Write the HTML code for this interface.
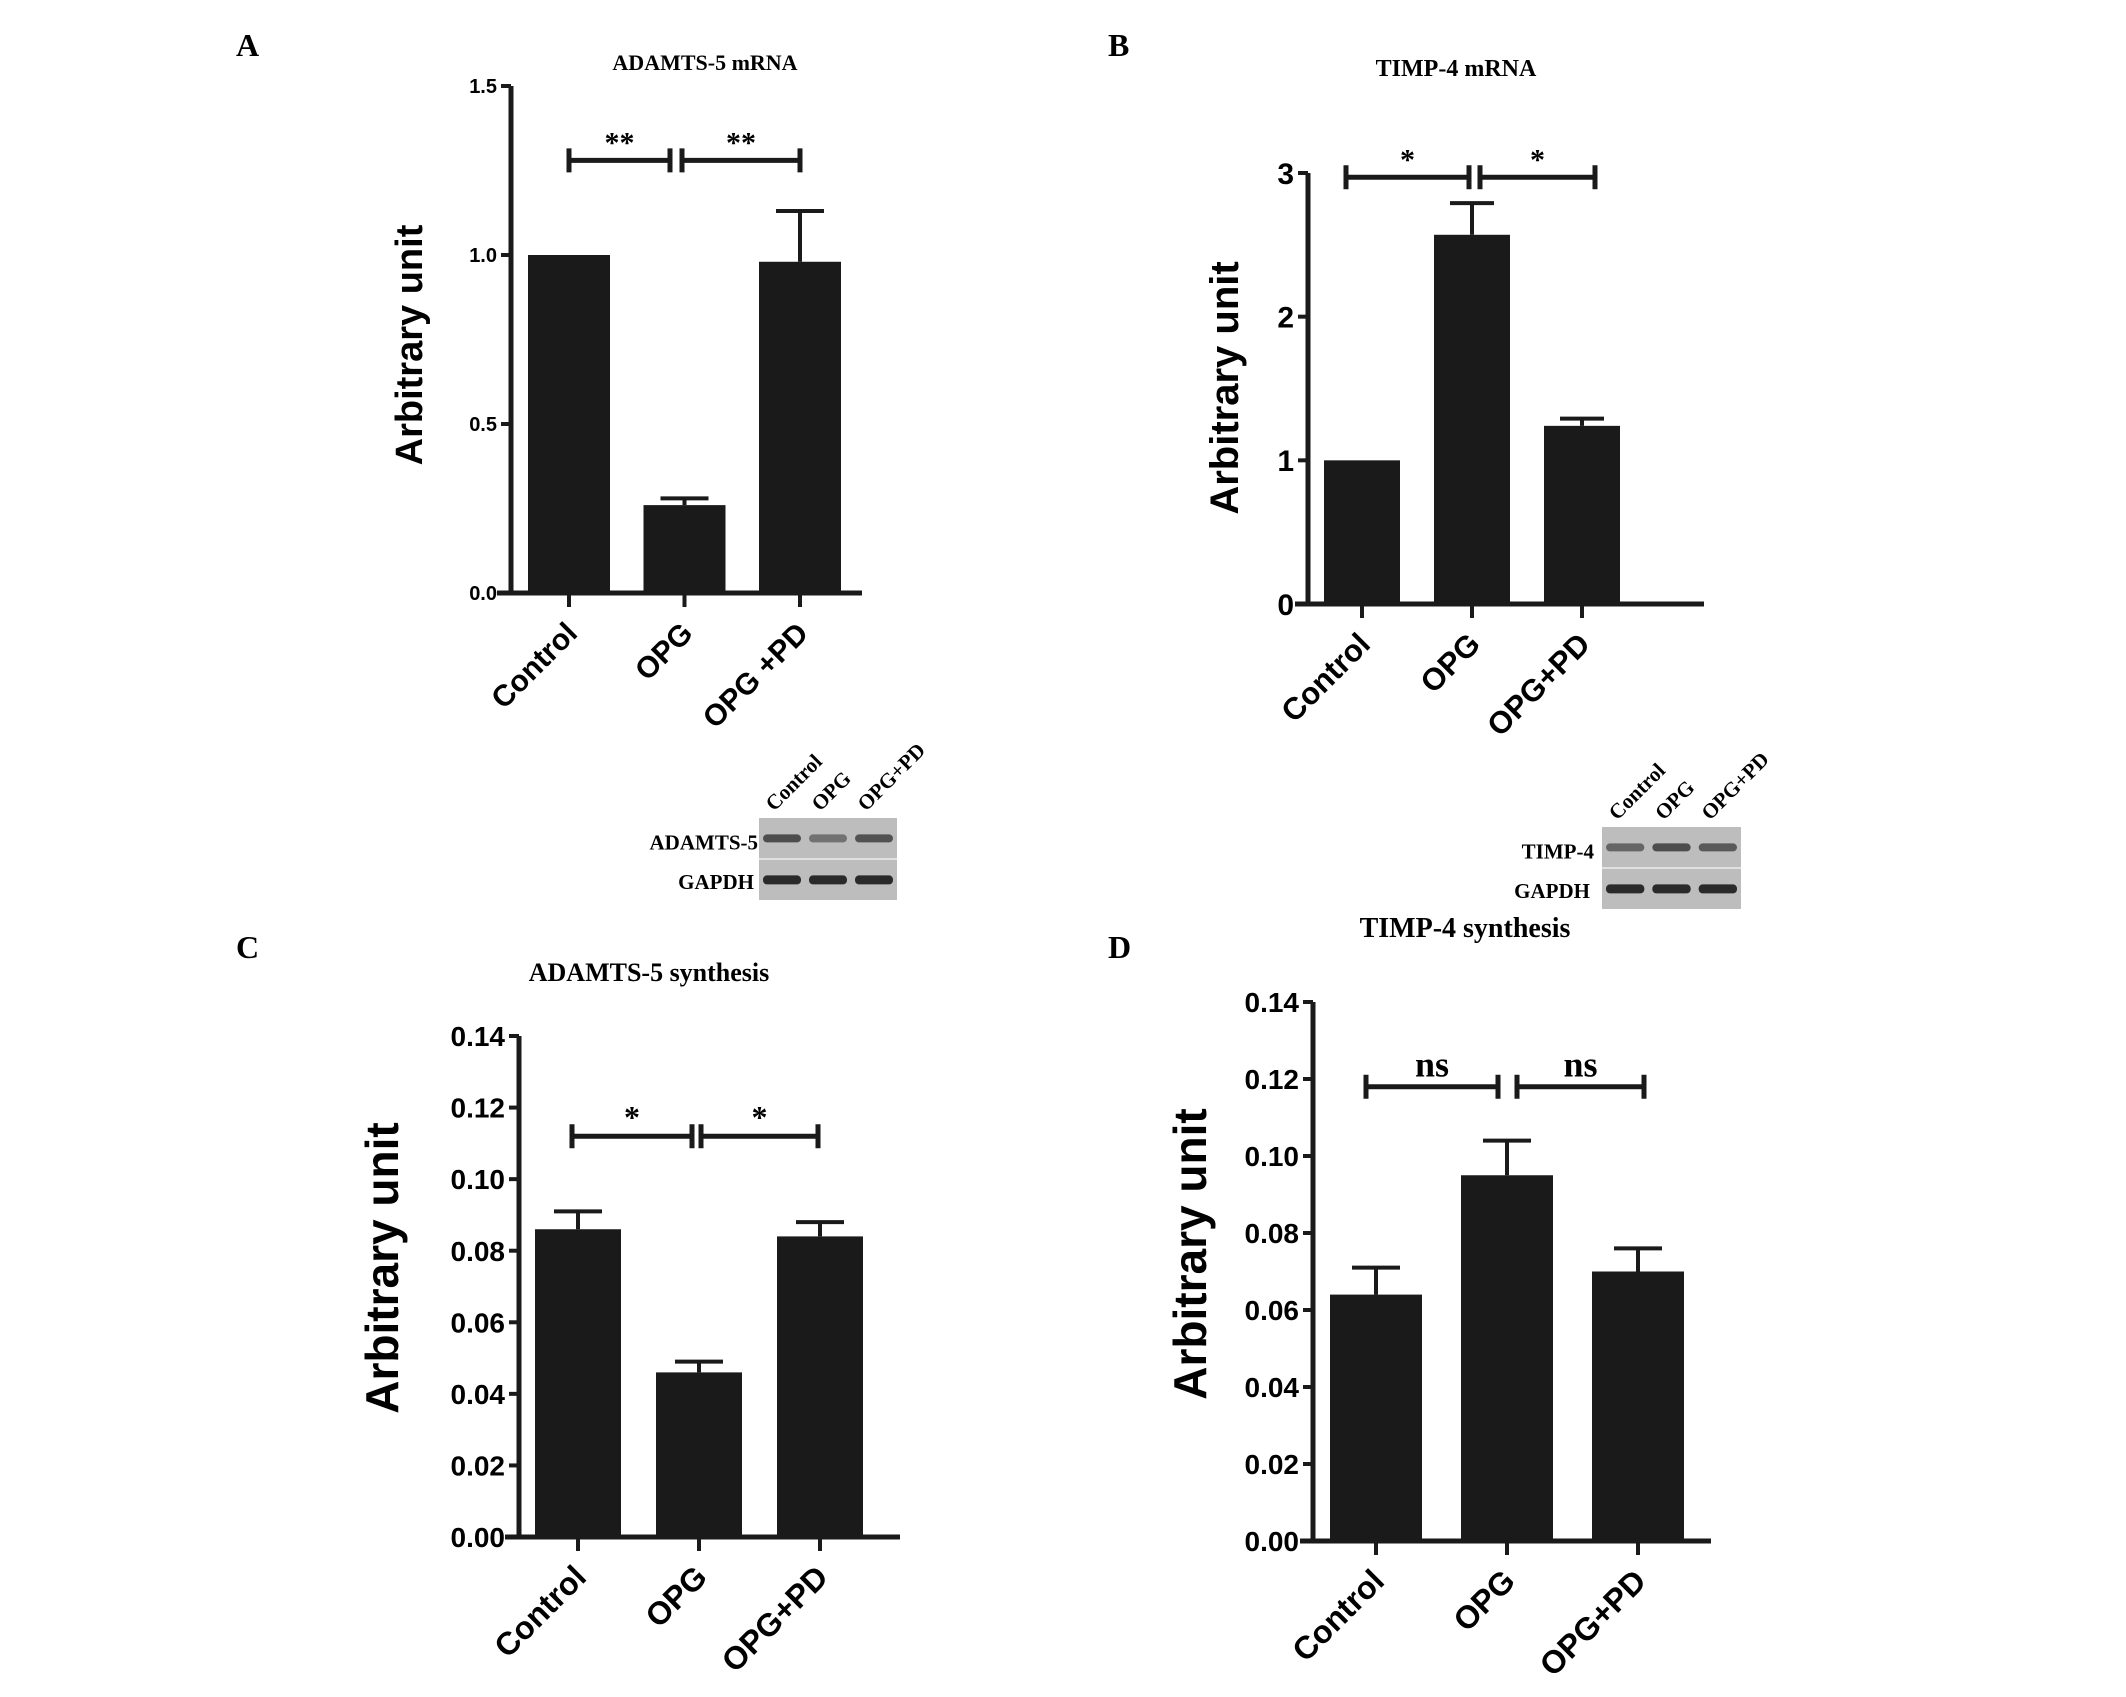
<!DOCTYPE html>
<html><head><meta charset="utf-8"><style>
html,body{margin:0;padding:0;background:#fff;}
svg{display:block;}
.sans{font-family:"Liberation Sans",Arial,sans-serif;font-weight:bold;}
.serif{font-family:"Liberation Serif","Times New Roman",serif;font-weight:bold;}
</style></head><body>
<svg id="fig" width="2126" height="1697" viewBox="0 0 2126 1697" xmlns="http://www.w3.org/2000/svg">
<text class="serif" x="236" y="56" font-size="32">A</text>
<text class="serif" x="1108" y="56" font-size="32">B</text>
<text class="serif" x="236" y="958" font-size="32">C</text>
<text class="serif" x="1108" y="958" font-size="32">D</text>
</svg>
<script>
// Panel A
const catsA = ["Control","OPG","OPG +PD"];
const valsA = [1.0, 0.26, 0.98];
const errA = [0, 0.02, 0.15];
const ticksA = ["0.0","0.5","1.0","1.5"];
const sigA = ["**","**"];
// Panel B
const catsB = ["Control","OPG","OPG+PD"];
const valsB = [1.0, 2.57, 1.24];
const errB = [0, 0.22, 0.05];
const ticksB = ["0","1","2","3"];
const sigB = ["*","*"];
// Panel C
const catsC = ["Control","OPG","OPG+PD"];
const valsC = [0.086, 0.046, 0.084];
const errC = [0.005, 0.003, 0.004];
const ticksC = ["0.00","0.02","0.04","0.06","0.08","0.10","0.12","0.14"];
const sigC = ["*","*"];
// Panel D
const catsD = ["Control","OPG","OPG+PD"];
const valsD = [0.064, 0.095, 0.070];
const errD = [0.007, 0.009, 0.006];
const ticksD = ["0.00","0.02","0.04","0.06","0.08","0.10","0.12","0.14"];
const sigD = ["ns","ns"];

const NS="http://www.w3.org/2000/svg";
const fig=document.getElementById('fig');
function mk(tag,attrs,parent){const e=document.createElementNS(NS,tag);for(const k in attrs)e.setAttribute(k,attrs[k]);(parent||fig).appendChild(e);return e;}

function panel(cfg,cats,vals,errs,ticks,sig){
  const g=mk('g',{});
  
  
  const tmin=parseFloat(ticks[0]),tmax=parseFloat(ticks[ticks.length-1]);
  const y=v=>cfg.y0-(v-tmin)/(tmax-tmin)*(cfg.y0-cfg.y1);
  const x=i=>cfg.xc0+i*cfg.step;
  const t=mk('text',{x:cfg.tx,y:cfg.ty,'font-size':cfg.tfs,'text-anchor':'middle','class':'serif'},g);
  t.textContent=cfg.title;
  
  
  vals.forEach((v,i)=>{
    const r=mk('rect',{x:x(i)-cfg.bw/2,y:y(v),width:cfg.bw,height:y(tmin)-y(v),fill:'#1a1a1a'},g);
    
    
    if(errs[i]>0){
      const e=mk('path',{d:`M${x(i)} ${y(v)} V${y(v+errs[i])} M${x(i)-cfg.cap} ${y(v+errs[i])} H${x(i)+cfg.cap}`,stroke:'#1a1a1a','stroke-width':4,fill:'none'},g);
      
      
    }
  });
  const ax=mk('path',{d:`M${cfg.ax} ${y(tmax)} V${y(tmin)} M${cfg.xa0} ${y(tmin)} H${cfg.xa1}`,stroke:'#1a1a1a','stroke-width':5,fill:'none'},g);
  
  
  ticks.forEach(tk=>{
    const v=parseFloat(tk);
    mk('line',{x1:cfg.ax-10,x2:cfg.ax,y1:y(v),y2:y(v),stroke:'#1a1a1a','stroke-width':4},g);
    const l=mk('text',{x:cfg.ax-14,y:y(v)+cfg.kfs*0.36,'font-size':cfg.kfs,'text-anchor':'end','class':'sans'},g);
    l.textContent=tk;
    
    
  });
  cats.forEach((c,i)=>{
    mk('line',{x1:x(i),x2:x(i),y1:y(tmin),y2:y(tmin)+14,stroke:'#1a1a1a','stroke-width':4},g);
    const px=x(i)+10,py=y(tmin)+42;
    const l=mk('text',{x:px,y:py,'font-size':cfg.cfs,'text-anchor':'end','class':'sans',transform:`rotate(-45 ${px} ${py})`},g);
    l.textContent=c;
    
    
  });
  const yl=mk('text',{x:0,y:0,'font-size':cfg.yfs,'text-anchor':'middle','class':'sans',transform:`translate(${cfg.ylx} ${cfg.yly}) rotate(-90)`},g);
  yl.textContent='Arbitrary unit';
  
  
  const sy=y(cfg.sigv);
  [[cfg.s1a,cfg.s1b],[cfg.s2a,cfg.s2b]].forEach((s,k)=>{
    const b=mk('path',{d:`M${s[0]} ${sy} H${s[1]} M${s[0]} ${sy-12} V${sy+12} M${s[1]} ${sy-12} V${sy+12}`,stroke:'#1a1a1a','stroke-width':5,fill:'none'},g);
    
    
    const st=mk('text',{x:(s[0]+s[1])/2,y:sy-cfg.sigoff,'font-size':cfg.sfs,'text-anchor':'middle','class':'serif'},g);
    st.textContent=sig[k];
    
    
  });
}

panel({id:'adamts5-mrna',title:'ADAMTS-5 mRNA',tx:705,ty:70,tfs:22,y0:593,y1:86,xc0:569,step:115.5,bw:82,cap:24,ax:511,xa0:497,xa1:862,kfs:20,cfs:30,yfs:38,ylx:422,yly:345,sigv:1.28,s1a:569,s1b:670,s2a:682,s2b:800,sigoff:8,sfs:30},catsA,valsA,errA,ticksA,sigA);
panel({id:'timp4-mrna',title:'TIMP-4 mRNA',tx:1456,ty:76,tfs:24,y0:604,y1:173,xc0:1362,step:110,bw:76,cap:22,ax:1308,xa0:1295,xa1:1704,kfs:30,cfs:31,yfs:40,ylx:1238,yly:388,sigv:2.97,s1a:1346,s1b:1469,s2a:1480,s2b:1595,sigoff:8,sfs:30},catsB,valsB,errB,ticksB,sigB);
panel({id:'adamts5-synthesis',title:'ADAMTS-5 synthesis',tx:649,ty:981,tfs:26,y0:1537,y1:1036,xc0:578,step:121,bw:86,cap:24,ax:519,xa0:505,xa1:900,kfs:28,cfs:32,yfs:46,ylx:398,yly:1268,sigv:0.112,s1a:572,s1b:692,s2a:701,s2b:818,sigoff:8,sfs:32},catsC,valsC,errC,ticksC,sigC);
panel({id:'timp4-synthesis',title:'TIMP-4 synthesis',tx:1465,ty:937,tfs:28,y0:1541,y1:1002,xc0:1376,step:131,bw:92,cap:24,ax:1313,xa0:1300,xa1:1711,kfs:28,cfs:32,yfs:46,ylx:1206,yly:1254,sigv:0.118,s1a:1366,s1b:1498,s2a:1517,s2b:1644,sigoff:10,sfs:36},catsD,valsD,errD,ticksD,sigD);

function blot(id,x0,y0,w,h,label,lx,colLabels,b1){
  const g=mk('g',{});
  
  
  mk('rect',{x:x0,y:y0,width:w,height:h,fill:'#bdbdbd'},g);
  mk('line',{x1:x0,x2:x0+w,y1:y0+h/2,y2:y0+h/2,stroke:'#e0e0e0','stroke-width':2},g);
  const lw=w/3;
  for(let i=0;i<3;i++){
    mk('rect',{x:x0+i*lw+4,y:y0+h*0.2,width:lw-8,height:8,rx:4,fill:'#404040','opacity':b1[i]},g);
    mk('rect',{x:x0+i*lw+4,y:y0+h*0.7,width:lw-8,height:9,rx:4,fill:'#2a2a2a'},g);
    const px=x0+i*lw+lw/2-8,py=y0-6;
    const t=mk('text',{x:px,y:py,'font-size':21,'class':'serif',transform:`rotate(-45 ${px} ${py})`},g);
    t.textContent=colLabels[i];
    
    
  }
  const a=mk('text',{x:lx,y:y0+h*0.3+7,'font-size':21,'text-anchor':'end','class':'serif'},g);
  a.textContent=label;
  
  
  const b=mk('text',{x:lx-4,y:y0+h*0.78+7,'font-size':21,'text-anchor':'end','class':'serif'},g);
  b.textContent='GAPDH';
  
  
}
blot('adamts5',759,818,138,82,'ADAMTS-5',758,['Control','OPG','OPG+PD'],[0.9,0.6,0.85]);
blot('timp4',1602,827,139,82,'TIMP-4',1594,['Control','OPG','OPG+PD'],[0.7,0.9,0.8]);
</script>
</body></html>
